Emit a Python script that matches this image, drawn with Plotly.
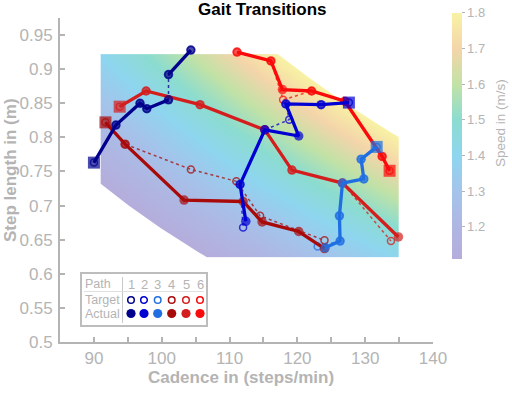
import numpy as np
import plotly.graph_objects as go

# ---------------- data ----------------
path_labels = ["1", "2", "3", "4", "5", "6"]
path_colors = ["#00008c", "#0000d2", "#1f6fe3", "#a80a0a", "#d41e1e", "#fa0a0a"]

# actual paths (cadence steps/min, step length m); None = gap
act1_cad = [90.0, 93.25, 96.8, 97.8, 101.0, None, 101.0, 104.3]
act1_len = [0.763, 0.818, 0.850, 0.842, 0.855, None, 0.892, 0.928]
act2_cad = [127.6, 123.5, 118.3, 120.2, 115.2, 111.55, 112.4]
act2_len = [0.851, 0.848, 0.849, 0.802, 0.811, 0.731, 0.677]
act3_cad = [131.7, 129.4, 129.8, 126.65, 126.2, 126.3, 124.1]
act3_len = [0.786, 0.768, 0.739, 0.733, 0.685, 0.648, 0.638]
act4_cad = [91.7, 94.6, 103.3, 112.0, 114.8, 120.2, 124.0]
act4_len = [0.822, 0.790, 0.708, 0.706, 0.676, 0.662, 0.637]
act5_cad = [93.8, 97.7, 105.65, 115.2, 119.2, 126.65, 134.9]
act5_len = [0.845, 0.868, 0.848, 0.811, 0.752, 0.733, 0.654]
act6_cad = [133.6, 132.5, 127.0, 122.1, 117.8, 116.1, 111.1]
act6_len = [0.751, 0.772, 0.853, 0.868, 0.870, 0.912, 0.925]

# target paths
tgt1_cad = [90.0, 93.25, 96.8, 97.8, 101.0, 101.0, 104.3]
tgt1_len = [0.763, 0.818, 0.850, 0.842, 0.855, 0.892, 0.928]
tgt2_cad = [127.6, 123.5, 118.3, 118.8, 115.2, 111.55, 112.0]
tgt2_len = [0.851, 0.848, 0.849, 0.826, 0.811, 0.731, 0.668]
tgt3_cad = [131.7, 129.4, 129.8, 126.65, 126.2, 126.3, 123.0]
tgt3_len = [0.786, 0.768, 0.739, 0.733, 0.685, 0.648, 0.640]
tgt4_cad = [91.7, 94.6, 104.3, 111.0, 114.5, 124.0]
tgt4_len = [0.822, 0.790, 0.753, 0.7355, 0.685, 0.649]
tgt5_cad = [93.8, 97.7, 105.65, 115.2, 119.2, 126.65, 133.8]
tgt5_len = [0.845, 0.868, 0.848, 0.811, 0.752, 0.733, 0.648]
tgt6_cad = [133.6, 132.5, 127.0, 122.1, 117.9, 116.1, 111.1]
tgt6_len = [0.751, 0.772, 0.853, 0.868, 0.855, 0.912, 0.925]

actual = [(act1_cad, act1_len), (act2_cad, act2_len), (act3_cad, act3_len),
          (act4_cad, act4_len), (act5_cad, act5_len), (act6_cad, act6_len)]
target = [(tgt1_cad, tgt1_len), (tgt2_cad, tgt2_len), (tgt3_cad, tgt3_len),
          (tgt4_cad, tgt4_len), (tgt5_cad, tgt5_len), (tgt6_cad, tgt6_len)]

x_tick_vals = [90, 95, 100, 105, 110, 115, 120, 125, 130, 135, 140]
x_tick_text = ["90", "", "100", "", "110", "", "120", "", "130", "", "140"]
y_tick_vals = [0.5, 0.55, 0.6, 0.65, 0.7, 0.75, 0.8, 0.85, 0.9, 0.95]
y_tick_text = ["0.5", "0.55", "0.6", "0.65", "0.7", "0.75", "0.8", "0.85", "0.9", "0.95"]
cb_tick_vals = [1.2, 1.3, 1.4, 1.5, 1.6, 1.7, 1.8]

# speed field region (speed = cadence * step length / 60)
cad_min, cad_max = 91.0, 135.0
len_min, len_max = 0.625, 0.922
cb_min, cb_max = 1.11, 1.80
scale_vals = [1.11, 1.2, 1.3, 1.4, 1.5, 1.6, 1.7, 1.8]
scale_cols = ["#b5addc", "#afb6e2", "#a4c4eb", "#8ed6ef", "#8cdcd0",
              "#c2e2a6", "#f4d5aa", "#f8f2a4"]

# ---------------- layout geometry ----------------
W, H = 512, 394
ML, MR, MT, MB = 60, 79, 18, 52
PW = W - ML - MR
PH = H - MT - MB
GRAY = "#b4b4b4"
FONT = "Liberation Sans, Arial, Helvetica, sans-serif"


def px(x):  # picture pixel -> paper
    return (x - ML) / PW


def py(y):
    return (H - MB - y) / PH


fig = go.Figure()

# speed background on a rectangle; corners outside the speed band masked below
cad_edges = np.arange(cad_min, cad_max + 1e-9, 0.5)
len_edges = np.linspace(len_min, len_max, 61)
cad_c = (cad_edges[:-1] + cad_edges[1:]) / 2
len_c = (len_edges[:-1] + len_edges[1:]) / 2
C, S = np.meshgrid(cad_c, len_c)
speed = np.round(C * S / 60.0, 4)

colorscale = [[(v - cb_min) / (cb_max - cb_min), c] for v, c in zip(scale_vals, scale_cols)]

fig.add_trace(go.Heatmap(
    x=cad_edges, y=len_edges, z=speed, zmin=cb_min, zmax=cb_max, zsmooth="best",
    colorscale=colorscale, hoverinfo="skip",
    colorbar=dict(
        thickness=10, lenmode="pixels", len=246,
        x=px(452), xanchor="left", xpad=0,
        y=py(135.9), yanchor="middle", ypad=0,
        outlinewidth=0, tickvals=cb_tick_vals,
        ticks="outside", ticklen=3, tickcolor=GRAY, tickwidth=1,
        tickfont=dict(family=FONT, size=13, color=GRAY),
    ),
))

# white masks outside the speed band (boundaries are constant-speed curves)
hi_x = np.linspace(cb_max * 60 / len_max, cad_max, 40)
hi_y = cb_max * 60 / hi_x
mask_hi_x = list(hi_x) + [cad_max + 1, cad_max + 1, hi_x[0]]
mask_hi_y = list(hi_y) + [hi_y[-1], len_max + 0.01, len_max + 0.01]
lo_x = np.linspace(cad_min, cb_min * 60 / len_min, 40)
lo_y = cb_min * 60 / lo_x
mask_lo_x = list(lo_x) + [lo_x[-1], cad_min - 1, cad_min - 1]
mask_lo_y = list(lo_y) + [len_min - 0.01, len_min - 0.01, lo_y[0]]
for mx, my in [(mask_hi_x, mask_hi_y), (mask_lo_x, mask_lo_y)]:
    fig.add_trace(go.Scatter(x=mx, y=my, mode="lines", fill="toself", fillcolor="white",
                             line=dict(width=0, color="white"), showlegend=False,
                             hoverinfo="skip"))

draw_order = [5, 4, 3, 2, 1, 0]
for i in draw_order:
    tx, ty = target[i]
    fig.add_trace(go.Scatter(
        x=tx, y=ty, mode="lines+markers",
        line=dict(color=path_colors[i], width=1.5, dash="dot"),
        marker=dict(symbol="circle-open", size=7, color=path_colors[i], line=dict(width=1.5)),
        opacity=0.75, showlegend=False, hoverinfo="skip",
    ))
for i in draw_order:
    ax, ay = actual[i]
    n = len(ax)
    fig.add_trace(go.Scatter(
        x=ax, y=ay, mode="lines+markers",
        line=dict(color=path_colors[i], width=3.3),
        marker=dict(symbol=["square"] + ["circle"] * (n - 1),
                    size=[12] + [9.5] * (n - 1), color=path_colors[i],
                    line=dict(width=0, color=path_colors[i])),
        showlegend=False, hoverinfo="skip",
    ))

shapes = []
annotations = []

# legend table
shapes.append(dict(type="rect", xref="paper", yref="paper",
                   x0=px(81), x1=px(207), y0=py(326), y1=py(273),
                   line=dict(color="#bdbdbd", width=2), fillcolor="white"))
shapes.append(dict(type="line", xref="paper", yref="paper",
                   x0=px(122.5), x1=px(122.5), y0=py(323), y1=py(277),
                   line=dict(color="#c8c8c8", width=1)))
shapes.append(dict(type="line", xref="paper", yref="paper",
                   x0=px(84), x1=px(204), y0=py(291.5), y1=py(291.5),
                   line=dict(color="#e0e0e0", width=1)))
for txt, yy in [("Path", 284), ("Target", 300), ("Actual", 313.5)]:
    annotations.append(dict(text=txt, xref="paper", yref="paper", x=px(83), y=py(yy),
                            xanchor="left", yanchor="middle", showarrow=False,
                            font=dict(family=FONT, size=12.5, color=GRAY)))
leg_x = [131, 144, 157.7, 171.7, 186, 200]
for i, cx in enumerate(leg_x):
    annotations.append(dict(text=path_labels[i], xref="paper", yref="paper", x=px(cx), y=py(284),
                            xanchor="center", yanchor="middle", showarrow=False,
                            font=dict(family=FONT, size=13, color=GRAY)))
    r = 3.3
    shapes.append(dict(type="circle", xref="paper", yref="paper",
                       x0=px(cx - r), x1=px(cx + r), y0=py(300 + r), y1=py(300 - r),
                       line=dict(color=path_colors[i], width=1.5)))
    r = 4.6
    shapes.append(dict(type="circle", xref="paper", yref="paper",
                       x0=px(cx - r), x1=px(cx + r), y0=py(313.5 + r), y1=py(313.5 - r),
                       line=dict(color=path_colors[i], width=0), fillcolor=path_colors[i]))

annotations.append(dict(text="<b>Gait Transitions</b>", xref="paper", yref="paper",
                        x=px(262), y=py(9), xanchor="center", yanchor="middle", showarrow=False,
                        font=dict(family=FONT, size=17, color="black")))
annotations.append(dict(text="<b>Cadence in (steps/min)</b>", xref="paper", yref="paper",
                        x=px(240.7), y=py(377), xanchor="center", yanchor="middle", showarrow=False,
                        font=dict(family=FONT, size=17, color=GRAY)))
annotations.append(dict(text="<b>Step length in (m)</b>", xref="paper", yref="paper",
                        x=px(10), y=py(170), xanchor="center", yanchor="middle", showarrow=False,
                        textangle=-90, font=dict(family=FONT, size=17, color=GRAY)))
annotations.append(dict(text="Speed in (m/s)", xref="paper", yref="paper",
                        x=px(500.5), y=py(123.5), xanchor="center", yanchor="middle", showarrow=False,
                        textangle=-90, font=dict(family=FONT, size=13.5, color=GRAY)))

fig.update_layout(
    width=W, height=H, margin=dict(l=ML, r=MR, t=MT, b=MB, pad=0),
    paper_bgcolor="white", plot_bgcolor="white",
    font=dict(family=FONT, color=GRAY),
    shapes=shapes, annotations=annotations, showlegend=False,
    xaxis=dict(range=[85, 140], showgrid=False, zeroline=False, showline=True,
               linecolor=GRAY, linewidth=2, ticks="inside", ticklen=5, tickwidth=1.5,
               tickcolor=GRAY, tickvals=x_tick_vals, ticktext=x_tick_text,
               tickfont=dict(family=FONT, size=17, color=GRAY)),
    yaxis=dict(range=[0.5, 0.975], showgrid=False, zeroline=False, showline=True,
               linecolor=GRAY, linewidth=2, ticks="inside", ticklen=5, tickwidth=1.5,
               tickcolor=GRAY, tickvals=y_tick_vals, ticktext=y_tick_text,
               ticklabelstandoff=2,
               tickfont=dict(family=FONT, size=17, color=GRAY)),
)

# remove the browser's default 8px page margin so the figure fills the window
fig.write_html("out.html", config={"displayModeBar": False},
               post_script="document.body.style.margin='0px';")
